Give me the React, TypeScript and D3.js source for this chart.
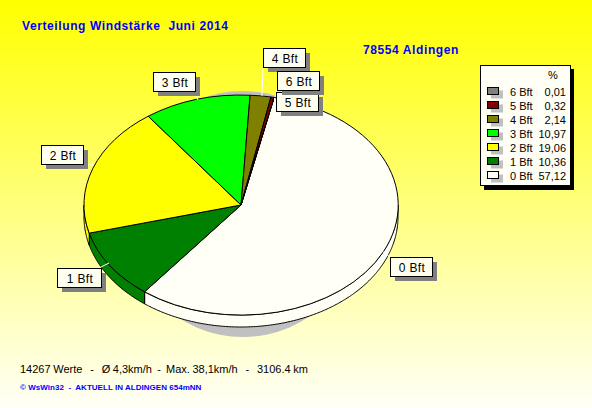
import React from 'react';
import * as d3 from 'd3';

// slices in drawing order (clockwise), legend is listed the other way round
const categories = ['0 Bft', '1 Bft', '2 Bft', '3 Bft', '4 Bft', '5 Bft', '6 Bft'];
const percents = [57.12, 10.36, 19.06, 10.97, 2.14, 0.32, 0.01];
const percentLabels = ['57,12', '10,36', '19,06', '10,97', '2,14', '0,32', '0,01'];
const colors = ['#fffff6', '#008000', '#ffff00', '#00ff00', '#808000', '#800000', '#808080'];

const title = 'Verteilung Windstärke  Juni 2014';
const station = '78554 Aldingen';
const summary = '14267 Werte   -   Ø 4,3km/h  -  Max. 38,1km/h   -   3106.4 km';
const footer = '© WsWin32  -  AKTUELL IN ALDINGEN 654mNN';

// callout boxes: x, y of the box and end of the white leader line
const callouts = [
  { x: 390, y: 257, w: 42, lx: 390, ly: 257, ex: 383, ey: 252 },
  { x: 57, y: 268, w: 44, lx: 101, ly: 267, ex: 109, ey: 263 },
  { x: 41, y: 145, w: 42, lx: 83, ly: 165, ex: 93, ey: 165 },
  { x: 153, y: 72, w: 42, lx: 195, ly: 92, ex: 198, ey: 100 },
  { x: 263, y: 48, w: 42, lx: 263, ly: 67, ex: 262, ey: 96 },
  { x: 276, y: 92, w: 42, lx: 276, ly: 100, ex: 274, ey: 98 },
  { x: 277, y: 71, w: 42, lx: 277, ly: 89, ex: 275, ey: 97 },
];

const cx = 241;
const cy = 205;
const rx = 157;
const ry = 110;
const depth = 12;
const startDeg = 12.2;
const font = '"Liberation Sans", Arial, sans-serif';

const pieData = d3
  .pie<number>()
  .sort(null)
  .startAngle((startDeg * Math.PI) / 180)
  .endAngle((startDeg * Math.PI) / 180 + 2 * Math.PI)(percents);

const unitArc = d3.arc<d3.PieArcDatum<number>>().innerRadius(0).outerRadius(1);

// side wall piece between two angles, only the front half shows
const wallPath = (a0: number, a1: number) => {
  const from = Math.max(a0, Math.PI / 2);
  const to = Math.min(a1, (3 * Math.PI) / 2);
  if (to <= from) return null;
  const steps = d3.range(from, to, 0.01).concat(to);
  const top = steps.map(a => [cx + rx * Math.sin(a), cy - ry * Math.cos(a)] as [number, number]);
  const bottom = top.map(p => [p[0], p[1] + depth] as [number, number]).reverse();
  return d3.line()(top.concat(bottom)) + 'Z';
};

const Box = ({ x, y, w, label }: { x: number; y: number; w: number; label: string }) => (
  <g>
    <rect x={x + 5} y={y + 5} width={w} height={19} fill="#808080" />
    <rect x={x + 0.5} y={y + 0.5} width={w} height={19} fill="#fffff0" stroke="#000" />
    <text x={x + w / 2 + 1} y={y + 15} textAnchor="middle" fontSize={12} letterSpacing={0.4} fill="#000">
      {label}
    </text>
  </g>
);

export default function App() {
  const rowY = d3
    .scalePoint<string>()
    .domain([...categories].reverse())
    .range([91.5, 175.5]);

  return (
    <svg
      width={592}
      height={408}
      viewBox="0 0 592 408"
      style={{ position: 'absolute', left: 0, top: 0 }}
      fontFamily={font}
    >
      <defs>
        <linearGradient id="bg" x1="0" y1="0" x2="0" y2="1">
          <stop offset="0" stopColor="#ffff00" />
          <stop offset="1" stopColor="#fffff8" />
        </linearGradient>
      </defs>
      <rect width={592} height={408} fill="url(#bg)" />

      <text x={22} y={30} fontSize={12} fontWeight="bold" fill="#0000ff" xmlSpace="preserve" letterSpacing={0.6}>
        {title}
      </text>
      <text x={363} y={54} fontSize={12} fontWeight="bold" fill="#0000ff" letterSpacing={0.6}>
        {station}
      </text>

      {/* shadow */}
      <ellipse cx={243} cy={214} rx={120} ry={123} fill="#c0c0c0" />

      {/* side wall */}
      {pieData.map((d, i) => {
        const p = wallPath(d.startAngle, d.endAngle);
        return p ? <path key={i} d={p} fill={colors[i]} stroke="#000" /> : null;
      })}

      {/* top face */}
      <g transform={`translate(${cx},${cy}) scale(${rx},${ry})`}>
        {pieData.map((d, i) => (
          <path
            key={i}
            d={unitArc(d) as string}
            fill={colors[i]}
            stroke="#000"
            strokeWidth={1}
            vectorEffect="non-scaling-stroke"
          />
        ))}
      </g>

      {/* leader lines and callouts */}
      {callouts.map((c, i) => (
        <line key={i} x1={c.lx} y1={c.ly} x2={c.ex} y2={c.ey} stroke="#fff" />
      ))}
      {callouts.map((c, i) => (
        <Box key={i} x={c.x} y={c.y} w={c.w} label={categories[i]} />
      ))}

      {/* legend */}
      <rect x={484} y={69} width={90} height={121} fill="#000" />
      <rect x={480.5} y={65.5} width={90} height={120} fill="#fffff6" stroke="#000" />
      <text x={553} y={79} fontSize={11} textAnchor="middle" fill="#000">
        %
      </text>
      {categories.map((c, i) => {
        const y = rowY(c) as number;
        return (
          <g key={c}>
            <rect x={491} y={y - 1} width={12} height={8} fill="#c0c0c0" />
            <rect x={487.5} y={y - 4} width={11} height={7} fill={colors[i]} stroke="#000" />
            <text x={510} y={y + 4} fontSize={11} fill="#000">
              {c}
            </text>
            <text x={566} y={y + 4} fontSize={11} textAnchor="end" fill="#000">
              {percentLabels[i]}
            </text>
          </g>
        );
      })}

      <text x={20} y={373} fontSize={11} fill="#000" xmlSpace="preserve" wordSpacing={-0.45}>
        {summary}
      </text>
      <text x={20} y={390} fontSize={8} fontWeight="bold" fill="#0000ff" xmlSpace="preserve" letterSpacing={0.03}>
        {footer}
      </text>
    </svg>
  );
}
